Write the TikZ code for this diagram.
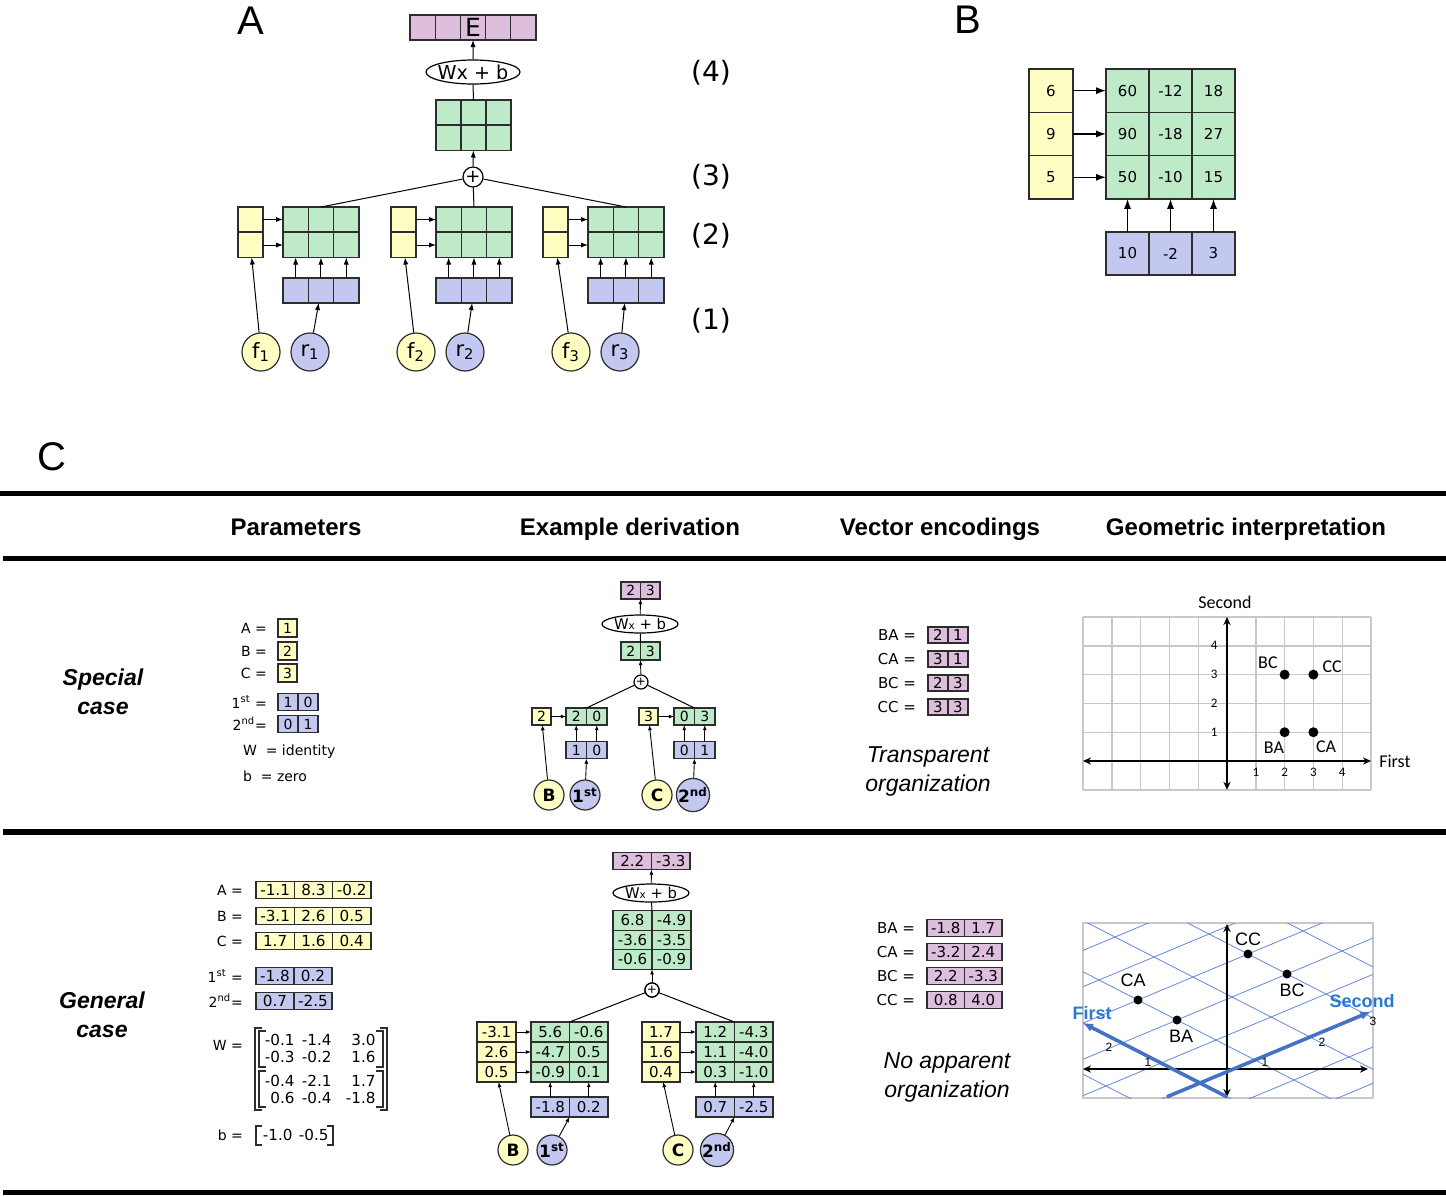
\documentclass[tikz,border=0pt]{standalone}
\usepackage{fontspec}
\setmainfont{DejaVu Sans}
\newfontfamily\arialf{Liberation Sans}
\newfontfamily\calibf{Carlito}
\usetikzlibrary{shapes.geometric}
\usetikzlibrary{arrows.meta}
\definecolor{cellyellow}{RGB}{255,255,196}
\definecolor{cellgreen}{RGB}{190,234,200}
\definecolor{cellblue}{RGB}{194,200,240}
\definecolor{cellpurple}{RGB}{221,190,221}
\definecolor{edgegray}{RGB}{45,45,45}
\definecolor{gridgray}{RGB}{200,200,200}
\definecolor{gridblue}{RGB}{100,135,220}
\definecolor{axisblue}{RGB}{68,114,196}
\definecolor{labelblue}{RGB}{40,120,210}
\tikzset{
    cell/.style = {rectangle, draw=edgegray, line width=0.6pt, inner sep=0pt, outer sep=0pt},
    ycell/.style = {cell, fill=cellyellow},
    gcell/.style = {cell, fill=cellgreen},
    bcell/.style = {cell, fill=cellblue},
    pcell/.style = {cell, fill=cellpurple},
    ycirc/.style = {circle, draw=edgegray, line width=0.6pt, fill=cellyellow, inner sep=0pt},
    bcirc/.style = {circle, draw=edgegray, line width=0.6pt, fill=cellblue, inner sep=0pt},
    plusnode/.style = {circle, draw=black, fill=white, line width=0.6pt, inner sep=0pt},
    affine/.style = {ellipse, draw=black, fill=white, line width=0.6pt, inner xsep=-3pt, inner ysep=-0.5pt},
    edgen/.style = {-{Latex[length=3.5pt,width=2.6pt]}, line width=0.5pt},
    edges/.style = {-{Latex[length=2.6pt,width=2pt]}, line width=0.45pt},
    edgeb/.style = {-{Latex[length=5pt,width=3.6pt]}, line width=0.7pt},
    link/.style = {line width=0.5pt},
    rule/.style = {line width=2.6pt},
    bracket/.style = {line width=0.6pt, draw=edgegray},
    gridline/.style = {line width=0.7pt, draw=gridgray},
    bluegrid/.style = {line width=0.4pt, draw=gridblue},
    kaxis/.style = {{Stealth[length=4pt,width=3.6pt]}-{Stealth[length=4pt,width=3.6pt]}, line width=0.8pt},
    baxis/.style = {-{Latex[length=5pt,width=4.5pt]}, line width=1.8pt, draw=axisblue},
    dot/.style = {circle, fill=black, inner sep=0pt},
    panel/.style = {font=\arialf\fontsize{20}{24}\selectfont},
    stage/.style = {font=\fontsize{14}{16}\selectfont},
    colhead/.style = {font=\arialf\bfseries\fontsize{12}{14}\selectfont},
    rowhead/.style = {font=\arialf\bfseries\itshape\fontsize{11.5}{14.5}\selectfont, align=center},
    remark/.style = {font=\arialf\itshape\fontsize{11.5}{14.5}\selectfont, align=center},
    ftxt/.style = {font=\fontsize{10.5}{12}\selectfont},
    bnum/.style = {font=\fontsize{7.5}{9}\selectfont},
    ptxt/.style = {font=\fontsize{7}{8}\selectfont},
    mtxt/.style = {font=\fontsize{7.6}{9}\selectfont},
    ntxt/.style = {font=\fontsize{7.5}{9}\selectfont},
    etxt/.style = {font=\fontsize{7.4}{9}\selectfont},
    ctxt/.style = {font=\bfseries\fontsize{8.5}{10}\selectfont},
    callab/.style = {font=\calibf\fontsize{9}{10}\selectfont},
    caltick/.style = {font=\calibf\fontsize{6.5}{7}\selectfont},
    arlab/.style = {font=\arialf\fontsize{9}{10}\selectfont},
    artick/.style = {font=\arialf\fontsize{6}{7}\selectfont},
    blab/.style = {font=\arialf\bfseries\fontsize{9}{10}\selectfont, text=labelblue}
}
% one row of boxes: name, style, left x, centre y, box width, box height, entries
\newcommand{\cellrow}[7]{%
  \foreach \val [count=\i] in {#7}
    \node[#2, minimum width={#5*0.5pt}, minimum height={#6*0.5pt}] (#1\i) at ({#3+(\i-0.5)*#5},{#4}) {\val};%
}
\newcommand{\smallx}{{\fontsize{5.2}{6}\selectfont x}}

\begin{document}
\begin{tikzpicture}[x=0.5pt, y=-0.5pt]
  \useasboundingbox (0,0) rectangle (1446,1196);

  % ---------- A ----------
  \node[panel] (labA) at (251,21) {A};
  \cellrow{e}{pcell,font=\fontsize{12.5}{14}\selectfont}{410}{27.5}{25.2}{25}{~,~,E,~,~}
  \node[affine, minimum width=47pt, minimum height=12pt, font=\fontsize{9.6}{12}\selectfont] (aff) at (473,72) {Wx + b};
  \cellrow{ta}{gcell}{436}{112.5}{25}{25}{~,~,~}
  \cellrow{tb}{gcell}{436}{138}{25}{25}{~,~,~}
  \node[plusnode, minimum size=10pt, font=\fontsize{9}{10}\selectfont] (sum) at (473,177) {+};
  \draw[edgen] (sum) -- (tb2);
  \draw[link] (ta2) -- (aff);
  \draw[edgen] (aff) -- (e3);
  \foreach \k/\gx/\yx/\fx/\rx in {1/283/238/261/310, 2/436/391/416/465, 3/588/543/571/620} {
    \cellrow{g\k a}{gcell}{\gx}{219.5}{25.3}{25}{~,~,~}
    \cellrow{g\k b}{gcell}{\gx}{245}{25.3}{25}{~,~,~}
    \cellrow{b\k}{bcell}{\gx}{290.5}{25.3}{25}{~,~,~}
    \node[ycell, minimum width=12.5pt, minimum height=12.5pt] (y\k a) at ({\yx+12.5},219.5) {~};
    \node[ycell, minimum width=12.5pt, minimum height=12.5pt] (y\k b) at ({\yx+12.5},245) {~};
    \node[ycirc, ftxt, minimum size=19pt] (f\k) at (\fx,352) {f\textsubscript{\k}};
    \node[bcirc, ftxt, minimum size=19pt] (r\k) at (\rx,352) {r\textsubscript{\k}};
    \draw[edgen] (y\k a) -- (g\k a1);
    \draw[edgen] (y\k b) -- (g\k b1);
    \foreach \i in {1,2,3} \draw[edgen] (b\k\i) -- (g\k b\i);
    \draw[edgen] (f\k) -- (y\k b);
    \draw[edgen] (r\k) -- (b\k2);
    \draw[link] (sum) -- (g\k a2.north);
  }
  \foreach \s/\yy in {4/73, 3/177, 2/236, 1/321}
    \node[stage] (st\s) at (711,\yy) {(\s)};

  % ---------- B ----------
  \node[panel] (labB) at (968,20) {B};
  \foreach \yv/\pa/\pb/\pc [count=\j] in {6/60/-12/18, 9/90/-18/27, 5/50/-10/15} {
    \node[ycell, bnum, minimum width=22pt, minimum height=21.65pt] (by\j) at (1051,{69+43.3*(\j-0.5)}) {\yv};
    \cellrow{bg\j}{gcell,bnum}{1106}{69+43.3*(\j-0.5)}{43}{43.3}{\pa,\pb,\pc}
    \draw[edgeb] (by\j) -- (bg\j1);
  }
  \cellrow{bb}{bcell,bnum}{1106}{253.5}{43}{43}{10,-2,3}
  \foreach \i in {1,2,3} \draw[edgeb] (bb\i) -- (bg3\i);

  % ---------- C ----------
  \node[panel] (labC) at (52,457) {C};
  \draw[rule] (0,493.5) -- (1446,493.5);
  \draw[rule] (3,558.5) -- (1446,558.5);
  \draw[rule] (3,832) -- (1446,832);
  \draw[rule] (3,1192.5) -- (1446,1192.5);
  \node[colhead, anchor=base] (hpar) at (296,535) {Parameters};
  \node[colhead, anchor=base] (hder) at (630,535) {Example derivation};
  \node[colhead, anchor=base] (henc) at (940,535) {Vector encodings};
  \node[colhead, anchor=base] (hgeo) at (1246,535) {Geometric interpretation};
  \node[rowhead] (hspec) at (103,692) {Special\\case};
  \node[rowhead] (hgen) at (102,1015) {General\\case};

  % special case: parameters
  \foreach \n/\yv/\yy in {A/1/628, B/2/651, C/3/673} {
    \node[ptxt, anchor=east] (pl\n) at (274,\yy) {\n\ =};
    \node[ycell, ptxt, minimum width=9.5pt, minimum height=9pt] (pv\n) at (287.5,\yy) {\yv};
  }
  \node[ptxt, anchor=east] (pl1) at (274,702) {1\textsuperscript{st} =};
  \cellrow{pf}{bcell,ptxt}{278}{702}{20}{17}{1,0}
  \node[ptxt, anchor=east] (pl2) at (274,724) {2\textsuperscript{nd}=};
  \cellrow{pn}{bcell,ptxt}{278}{724}{20}{17}{0,1}
  \node[ptxt, anchor=west] (plW) at (236,752) {W\ \ = identity};
  \node[ptxt, anchor=west] (plb) at (236,776) {b\ \ = zero};

  % special case: derivation
  \cellrow{sp}{pcell,ptxt}{621}{590.5}{19.5}{17}{2,3}
  \node[affine, etxt, minimum width=38pt, minimum height=9pt] (saff) at (640,624) {W\smallx{} + b};
  \cellrow{sg}{gcell,ptxt}{621}{651}{19.5}{18}{2,3}
  \node[plusnode, minimum size=7pt, font=\fontsize{6}{7}\selectfont] (ssum) at (641,682) {+};
  \node[ycell, ptxt, minimum width=9.5pt, minimum height=8.5pt] (sy1) at (541.5,716.5) {2};
  \cellrow{sl}{gcell,ptxt}{566}{716.5}{20.5}{17}{2,0}
  \cellrow{slb}{bcell,ptxt}{566}{750}{20.5}{17}{1,0}
  \node[ycell, ptxt, minimum width=9.5pt, minimum height=8.5pt] (sy2) at (648.5,716.5) {3};
  \cellrow{sr}{gcell,ptxt}{674}{716.5}{20.5}{17}{0,3}
  \cellrow{srb}{bcell,ptxt}{674}{750}{20.5}{17}{0,1}
  \node[ycirc, ctxt, minimum size=15pt] (sB) at (549,795) {B};
  \node[bcirc, ctxt, minimum size=15pt] (s1st) at (585,795) {1\textsuperscript{st}};
  \node[ycirc, ctxt, minimum size=15pt] (sC) at (657,795) {C};
  \node[bcirc, ctxt, minimum size=15pt] (s2nd) at (693,795) {2\textsuperscript{nd}};
  \draw[edges] (sB) -- (sy1);
  \draw[edges] (s1st) -- (slb1.south east);
  \draw[edges] (sC) -- (sy2);
  \draw[edges] (s2nd) -- (srb1.south east);
  \draw[edges] (sy1) -- (sl1);
  \draw[edges] (sy2) -- (sr1);
  \foreach \i in {1,2} {
    \draw[edges] (slb\i) -- (sl\i);
    \draw[edges] (srb\i) -- (sr\i);
  }
  \draw[link] (ssum) -- (sl1.north east);
  \draw[link] (ssum) -- (sr1.north east);
  \draw[edges] (ssum) -- (sg1.south east);
  \draw[link] (sg1.north east) -- (saff);
  \draw[edges] (saff) -- (sp1.south east);

  % special case: encodings
  \foreach \n/\pa/\pb/\yy in {BA/2/1/635, CA/3/1/659, BC/2/3/683, CC/3/3/707} {
    \node[bnum, anchor=east] (vl\n) at (923,\yy) {\n\ =};
    \cellrow{vs\n}{pcell,bnum}{928}{\yy}{20}{16}{\pa,\pb}
  }
  \node[remark] (rtr) at (928,771) {Transparent\\organization};

  % special case: geometry
  \begin{scope}[shift={(1227,761)}, x={(14.4pt,0pt)}, y={(0pt,14.4pt)}]
    \foreach \k in {-5,...,5} \draw[gridline] (\k,-1) -- (\k,5);
    \foreach \k in {-1,...,5} \draw[gridline] (-5,\k) -- (5,\k);
    \draw[kaxis] (-5,0) -- (5,0);
    \draw[kaxis] (0,-1) -- (0,5);
    \foreach \k in {1,...,4} {
      \node[caltick] (kx\k) at (\k,-0.4) {\k};
      \node[caltick] (ky\k) at (-0.45,\k) {\k};
    }
    \foreach \n/\pa/\pb in {BA/2/1, CA/3/1, BC/2/3, CC/3/3}
      \node[dot, minimum size=5pt] (d\n) at (\pa,\pb) {};
    \node[callab] (tBC) at (1.42,3.4) {BC};
    \node[callab] (tCC) at (3.65,3.27) {CC};
    \node[callab] (tBA) at (1.63,0.45) {BA};
    \node[callab] (tCA) at (3.44,0.49) {CA};
    \node[callab] (tsec) at (-0.07,5.5) {Second};
    \node[callab] (tfst) at (5.83,0) {First};
  \end{scope}

  % general case: parameters
  \foreach \n/\pa/\pb/\pc/\yy in {A/-1.1/8.3/-0.2/890, B/-3.1/2.6/0.5/916, C/1.7/1.6/0.4/941} {
    \node[ptxt, anchor=east] (ql\n) at (250,\yy) {\n\ =};
    \cellrow{qv\n}{ycell,mtxt}{256}{\yy}{38.3}{17}{\pa,\pb,\pc}
  }
  \node[ptxt, anchor=east] (ql1) at (250,976) {1\textsuperscript{st} =};
  \cellrow{qf}{bcell,mtxt}{256}{976}{38}{17}{-1.8,0.2}
  \node[ptxt, anchor=east] (ql2) at (250,1001) {2\textsuperscript{nd}=};
  \cellrow{qn}{bcell,mtxt}{256}{1001}{38}{17}{0.7,-2.5}
  \node[ptxt, anchor=east] (qlW) at (250,1045) {W\ =};
  \foreach \pa/\pb/\pc/\yy [count=\j] in {-0.1/-1.4/3.0/1040, -0.3/-0.2/1.6/1057, -0.4/-2.1/1.7/1081, 0.6/-0.4/-1.8/1098} {
    \node[mtxt, anchor=east, inner sep=0pt] (w\j a) at (295,\yy) {\pa};
    \node[mtxt, anchor=east, inner sep=0pt] (w\j b) at (332,\yy) {\pb};
    \node[mtxt, anchor=east, inner sep=0pt] (w\j c) at (376,\yy) {\pc};
  }
  \draw[bracket] (262,1028) -| (255,1110) -- (262,1110);
  \draw[bracket] (380,1028) -| (387,1110) -- (380,1110);
  \draw[bracket] (266,1031) -| (259,1067) -- (266,1067);
  \draw[bracket] (376,1031) -| (383,1067) -- (376,1067);
  \draw[bracket] (266,1071) -| (259,1107) -- (266,1107);
  \draw[bracket] (376,1071) -| (383,1107) -- (376,1107);
  \node[ptxt, anchor=east] (qlb) at (250,1135) {b\ =};
  \node[mtxt, anchor=east, inner sep=0pt] (bv1) at (293,1135) {-1.0};
  \node[mtxt, anchor=east, inner sep=0pt] (bv2) at (329,1135) {-0.5};
  \draw[bracket] (262,1126) -| (256,1145) -- (262,1145);
  \draw[bracket] (327,1126) -| (333,1145) -- (327,1145);

  % general case: derivation
  \cellrow{gp}{pcell,ntxt}{613}{861}{38.5}{17}{2.2,-3.3}
  \node[affine, etxt, minimum width=38pt, minimum height=9pt] (gaff) at (651,893) {W\smallx{} + b};
  \foreach \pa/\pb/\yy [count=\j] in {6.8/-4.9/920.5, -3.6/-3.5/940, -0.6/-0.9/959.5}
    \cellrow{gt\j}{gcell,ntxt}{613}{\yy}{39}{19.5}{\pa,\pb}
  \node[plusnode, minimum size=7pt, font=\fontsize{6}{7}\selectfont] (gsum) at (652,990) {+};
  \foreach \yv/\pa/\pb/\yy [count=\j] in {-3.1/5.6/-0.6/1032, 2.6/-4.7/0.5/1052, 0.5/-0.9/0.1/1072} {
    \node[ycell, ntxt, minimum width=19.5pt, minimum height=10pt] (gly\j) at (496.5,\yy) {\yv};
    \cellrow{gl\j}{gcell,ntxt}{531}{\yy}{38.5}{20}{\pa,\pb}
    \draw[edges] (gly\j) -- (gl\j1);
  }
  \foreach \yv/\pa/\pb/\yy [count=\j] in {1.7/1.2/-4.3/1032, 1.6/1.1/-4.0/1052, 0.4/0.3/-1.0/1072} {
    \node[ycell, ntxt, minimum width=19pt, minimum height=10pt] (gry\j) at (661,\yy) {\yv};
    \cellrow{gr\j}{gcell,ntxt}{696}{\yy}{38.5}{20}{\pa,\pb}
    \draw[edges] (gry\j) -- (gr\j1);
  }
  \cellrow{glb}{bcell,ntxt}{531}{1107}{38.5}{20}{-1.8,0.2}
  \cellrow{grb}{bcell,ntxt}{696}{1107}{38.5}{20}{0.7,-2.5}
  \foreach \i in {1,2} {
    \draw[edges] (glb\i) -- (gl3\i);
    \draw[edges] (grb\i) -- (gr3\i);
  }
  \node[ycirc, ctxt, minimum size=15pt] (gB) at (513,1150) {B};
  \node[bcirc, ctxt, minimum size=15pt] (g1st) at (552,1150) {1\textsuperscript{st}};
  \node[ycirc, ctxt, minimum size=15pt] (gC) at (678,1150) {C};
  \node[bcirc, ctxt, minimum size=15pt] (g2nd) at (717,1150) {2\textsuperscript{nd}};
  \draw[edges] (gB) -- (gly3);
  \draw[edges] (g1st) -- (glb1.south east);
  \draw[edges] (gC) -- (gry3);
  \draw[edges] (g2nd) -- (grb1.south east);
  \draw[link] (gsum) -- (gl11.north east);
  \draw[link] (gsum) -- (gr11.north east);
  \draw[edges] (gsum) -- (gt31.south east);
  \draw[link] (gt11.north east) -- (gaff);
  \draw[edges] (gaff) -- (gp1.south east);

  % general case: encodings
  \foreach \n/\pa/\pb/\yy in {BA/-1.8/1.7/928, CA/-3.2/2.4/952, BC/2.2/-3.3/976, CC/0.8/4.0/1000} {
    \node[bnum, anchor=east] (wl\n) at (922,\yy) {\n\ =};
    \cellrow{vg\n}{pcell,bnum}{927}{\yy}{37.5}{17}{\pa,\pb}
  }
  \node[remark] (rno) at (947,1077) {No apparent\\organization};

  % general case: geometry
  \draw[gridline] (1083,923) rectangle (1373,1098);
  \begin{scope}
    \clip (1083,923) rectangle (1373,1098);
    \begin{scope}[shift={(1200,1083)}, x={(-19.5pt,10pt)}, y={(27.5pt,11.5pt)}]
      \foreach \k in {-3,...,6} \draw[bluegrid] (\k,-3) -- (\k,7);
      \foreach \k in {-3,...,6} \draw[bluegrid] (-4,\k) -- (8,\k);
    \end{scope}
  \end{scope}
  \draw[kaxis] (1083,1069) -- (1368,1069);
  \draw[kaxis] (1227,924) -- (1227,1097);
  \begin{scope}[shift={(1200,1083)}, x={(-19.5pt,10pt)}, y={(27.5pt,11.5pt)}]
    \draw[baxis] (-0.7,0) -- (3,0);
    \draw[baxis] (0,-0.6) -- (0,3.1);
    \foreach \n/\pa/\pb in {BA/2/1, CA/3/1, BC/2/3, CC/3/3}
      \node[dot, minimum size=4.5pt] (e\n) at (\pa,\pb) {};
  \end{scope}
  \node[arlab] (uCC) at (1248,939) {CC};
  \node[arlab] (uCA) at (1133,980) {CA};
  \node[arlab] (uBC) at (1292,990) {BC};
  \node[arlab] (uBA) at (1181,1036) {BA};
  \node[artick] (ua1) at (1148,1062) {1};
  \node[artick] (ua2) at (1109,1047) {2};
  \node[artick] (ub1) at (1265,1062) {1};
  \node[artick] (ub2) at (1322,1042) {2};
  \node[artick] (ub3) at (1373,1021) {3};
  \node[blab] (lfirst) at (1092,1013) {First};
  \node[blab] (lsecond) at (1362,1001) {Second};
\end{tikzpicture}
\end{document}
